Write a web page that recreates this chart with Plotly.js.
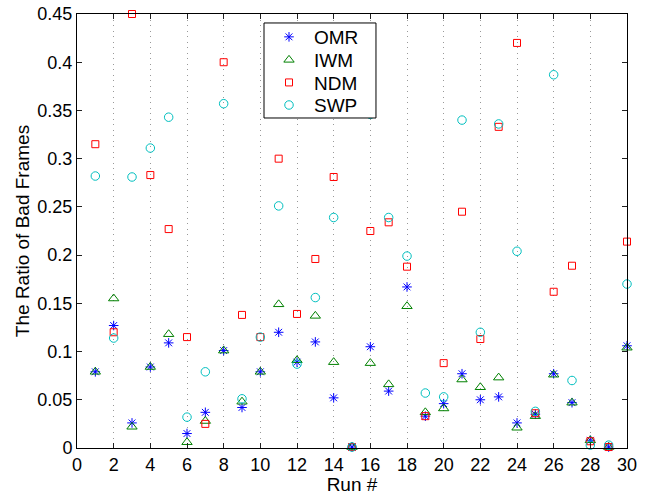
<!DOCTYPE html>
<html>
<head>
<meta charset="utf-8">
<script src="https://cdn.plot.ly/plotly-3.0.1.min.js"></script>
<style>html,body{margin:0;padding:0;background:#fff;}#chart{width:654px;height:495px;}</style>
</head>
<body>
<div id="chart"></div>
<script>
const runs = [1,2,3,4,5,6,7,8,9,10,11,12,13,14,15,16,17,18,19,20,21,22,23,24,25,26,27,28,29,30];
const omr = [0.079,0.127,0.026,0.084,0.109,0.015,0.037,0.101,0.042,0.079,0.120,0.089,0.110,0.052,0.001,0.105,0.059,0.167,0.033,0.046,0.077,0.050,0.053,0.026,0.035,0.077,0.047,0.008,0.001,0.106];
const iwm = [0.079,0.155,0.022,0.084,0.118,0.006,0.028,0.101,0.048,0.079,0.149,0.091,0.137,0.089,0.001,0.088,0.066,0.147,0.037,0.041,0.071,0.063,0.073,0.021,0.033,0.076,0.047,0.008,0.001,0.104];
const ndm = [0.315,0.120,0.450,0.283,0.227,0.115,0.025,0.400,0.138,0.115,0.300,0.139,0.196,0.281,0.001,0.225,0.234,0.188,0.033,0.088,0.245,0.113,0.333,0.420,0.036,0.162,0.189,0.007,0.001,0.214];
const swp = [0.282,0.114,0.281,0.311,0.343,0.032,0.079,0.357,0.051,0.115,0.251,0.087,0.156,0.239,0.001,0.346,0.239,0.199,0.057,0.053,0.340,0.120,0.336,0.204,0.038,0.387,0.070,0.003,0.003,0.170];
const seriesNames = ['OMR','IWM','NDM','SWP'];
const xTicks = [0,2,4,6,8,10,12,14,16,18,20,22,24,26,28,30];
const yTicks = [0,0.05,0.1,0.15,0.2,0.25,0.3,0.35,0.4,0.45];
const yTickText = ['0','0.05','0.1','0.15','0.2','0.25','0.3','0.35','0.4','0.45'];

const mk = (name, y, symbol, color, size, leg) => ({
  x: runs, y: y, name: name, type: 'scatter', mode: 'markers', cliponaxis: false,
  legend: leg,
  marker: {symbol: symbol, size: size, color: color, line: {color: color, width: 1}}
});
const data = [
  mk(seriesNames[0], omr, 'asterisk-open', '#0000ff', 8, 'legend'),
  mk(seriesNames[1], iwm, 'triangle-up-open', '#008000', 9, 'legend2'),
  mk(seriesNames[2], ndm, 'square-open', '#ff0000', 7, 'legend3'),
  mk(seriesNames[3], swp, 'circle-open', '#00bfbf', 8.5, 'legend4')
];
const font = {family: 'Liberation Sans, Arial, sans-serif', color: '#000'};
const legY = [0.947, 0.894, 0.842, 0.790];
const legBase = (y) => ({
  x: 0.34, y: y, xanchor: 'left', yanchor: 'middle',
  bgcolor: 'rgba(0,0,0,0)', borderwidth: 0,
  font: Object.assign({size: 19}, font), itemwidth: 40
});
const layout = {
  width: 654, height: 495,
  margin: {l: 77, r: 27, t: 14, b: 47},
  paper_bgcolor: '#fff', plot_bgcolor: '#fff',
  font: Object.assign({size: 18}, font),
  showlegend: true,
  legend: legBase(legY[0]),
  legend2: legBase(legY[1]),
  legend3: legBase(legY[2]),
  legend4: legBase(legY[3]),
  shapes: [{
    type: 'rect', xref: 'paper', yref: 'paper', layer: 'above',
    x0: 0.34, x1: 0.5436, y0: 0.7604, y1: 0.9793,
    fillcolor: '#fff', line: {color: '#000', width: 1}
  }],
  xaxis: {
    range: [0, 30], tickvals: xTicks, ticktext: xTicks.map(String),
    ticks: 'inside', ticklen: 5, tickcolor: '#222', mirror: 'ticks',
    showline: true, linecolor: '#000', linewidth: 1,
    showgrid: true, gridcolor: '#999', griddash: '1px,4.5px', gridwidth: 1,
    zeroline: false, tickfont: Object.assign({size: 18}, font),
    title: {text: 'Run #', font: Object.assign({size: 19}, font), standoff: 1}
  },
  yaxis: {
    range: [0, 0.45], tickvals: yTicks, ticktext: yTickText,
    ticks: 'inside', ticklen: 5, tickcolor: '#222', mirror: 'ticks',
    showline: true, linecolor: '#000', linewidth: 1,
    showgrid: false, zeroline: false, tickfont: Object.assign({size: 18}, font),
    title: {text: 'The Ratio of Bad Frames', font: Object.assign({size: 19}, font), standoff: 2}
  }
};
Plotly.newPlot('chart', data, layout, {staticPlot: true, displayModeBar: false});
</script>
</body>
</html>
